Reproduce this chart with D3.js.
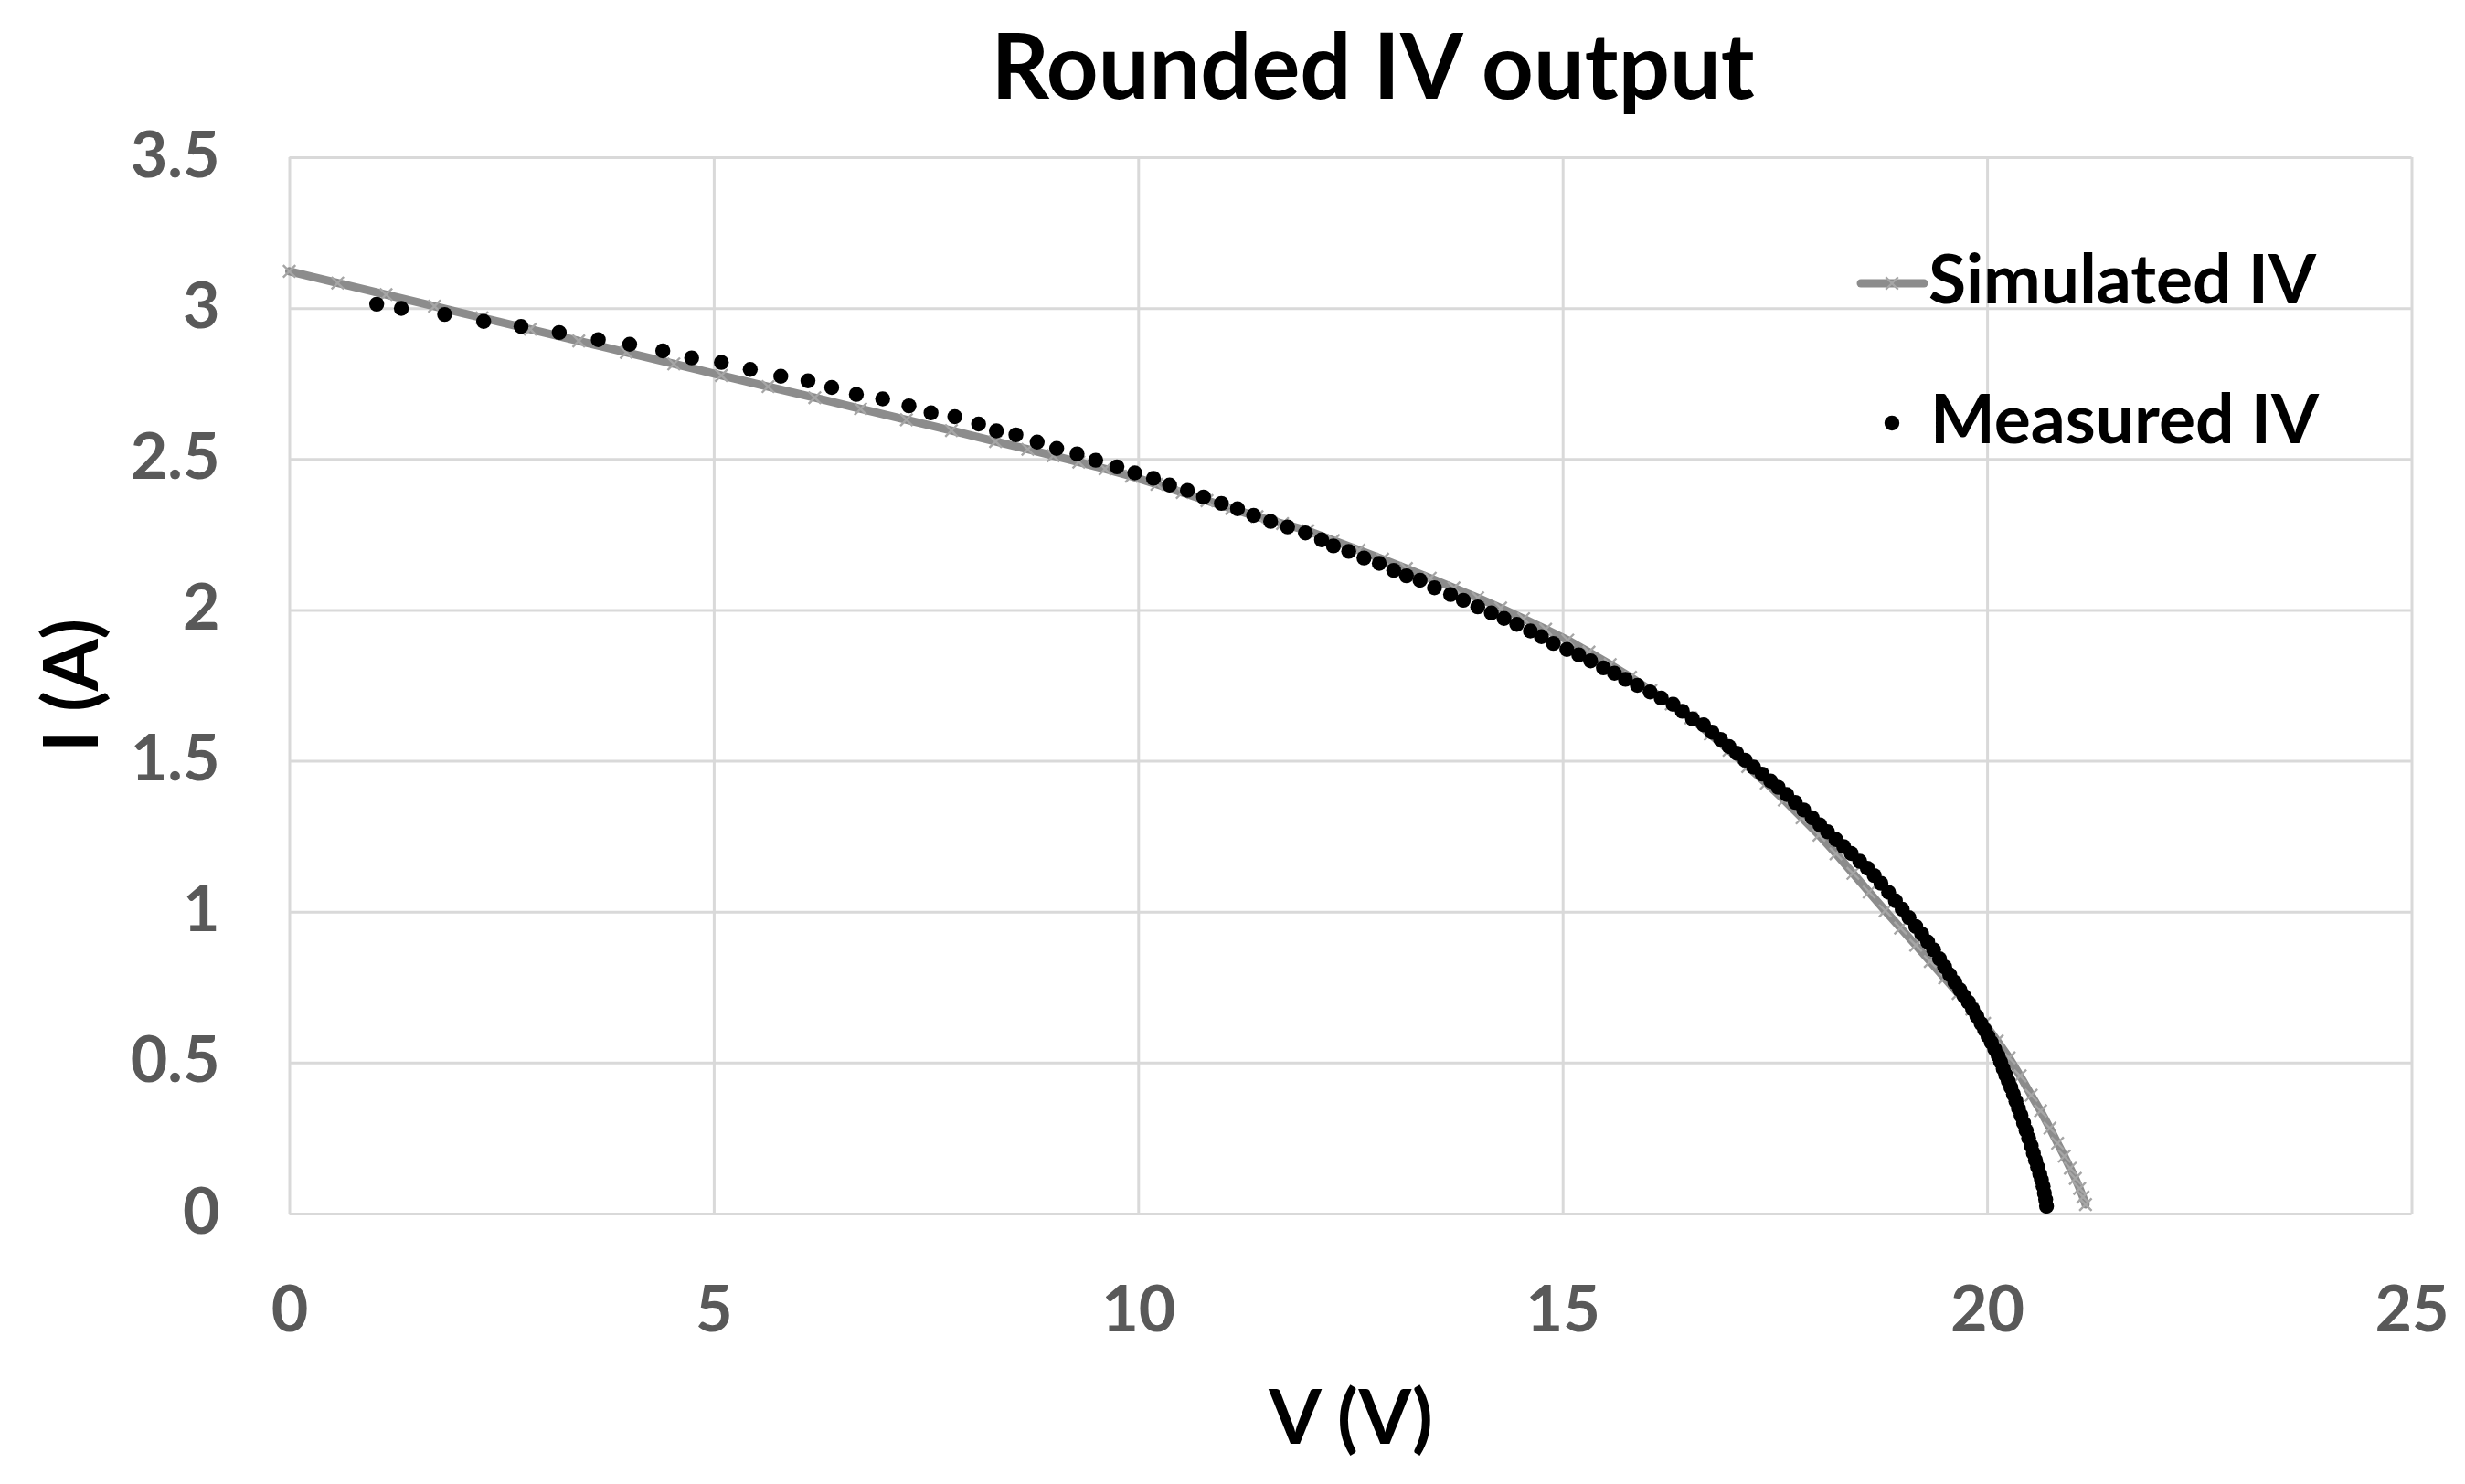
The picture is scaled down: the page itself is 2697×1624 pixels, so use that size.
<!DOCTYPE html>
<html>
<head>
<meta charset="utf-8">
<script src="https://cdn.jsdelivr.net/npm/d3@7"></script>
<style>
  html, body { margin: 0; padding: 0; background: #fff; }
  svg { display: block; }
  text { font-family: "Lato", "Open Sans", sans-serif; }
</style>
</head>
<body>
<svg id="chart" width="2697" height="1624"></svg>
<script>
// ---------------- data ----------------
const title = "Rounded IV output";
const xAxisTitle = "V (V)";
const yAxisTitle = "I (A)";
const seriesNames = ["Simulated IV", "Measured IV"];

const xTicks = [0, 5, 10, 15, 20, 25];
const xTickLabels = ["0", "5", "10", "15", "20", "25"];
const yTicks = [0, 0.5, 1, 1.5, 2, 2.5, 3, 3.5];
const yTickLabels = ["0", "0.5", "1", "1.5", "2", "2.5", "3", "3.5"];

// Simulated IV (grey line with x markers)
const simV = [0, 0.57, 1.14, 1.71, 2.27, 2.84, 3.41, 3.97, 4.53, 5.09, 5.64, 6.19, 6.73, 7.27, 7.80, 8.32, 8.70, 9.00, 9.30, 9.61, 9.92, 10.22, 10.52, 10.81, 11.10, 11.40, 11.70, 12.00, 12.30, 12.60, 12.88, 13.16, 13.44, 13.72, 14.00, 14.27, 14.54, 14.80, 15.06, 15.31, 15.56, 15.80, 16.04, 16.28, 16.51, 16.74, 16.96, 17.18, 17.40, 17.61, 17.82, 18.02, 18.22, 18.42, 18.61, 18.80, 18.98, 19.16, 19.33, 19.50, 19.66, 19.82, 19.97, 20.12, 20.26, 20.39, 20.52, 20.63, 20.74, 20.83, 20.91, 20.98, 21.04, 21.09, 21.13, 21.16];
const simI = [3.122, 3.083, 3.045, 3.006, 2.968, 2.930, 2.891, 2.853, 2.815, 2.777, 2.740, 2.703, 2.666, 2.630, 2.594, 2.558, 2.532, 2.511, 2.490, 2.467, 2.443, 2.416, 2.389, 2.362, 2.336, 2.309, 2.286, 2.262, 2.230, 2.198, 2.168, 2.137, 2.105, 2.073, 2.040, 2.006, 1.971, 1.936, 1.900, 1.860, 1.819, 1.777, 1.733, 1.688, 1.642, 1.588, 1.535, 1.481, 1.426, 1.370, 1.311, 1.254, 1.192, 1.127, 1.065, 1.003, 0.946, 0.889, 0.835, 0.780, 0.729, 0.677, 0.630, 0.572, 0.516, 0.456, 0.392, 0.340, 0.283, 0.233, 0.190, 0.150, 0.116, 0.083, 0.055, 0.030];

// Measured IV (black dots)
const measV = [1.03, 1.32, 1.83, 2.29, 2.73, 3.18, 3.64, 4.01, 4.40, 4.74, 5.09, 5.43, 5.79, 6.11, 6.39, 6.68, 6.99, 7.30, 7.56, 7.84, 8.12, 8.33, 8.56, 8.81, 9.04, 9.28, 9.50, 9.75, 9.96, 10.18, 10.37, 10.58, 10.77, 10.98, 11.17, 11.36, 11.56, 11.76, 11.97, 12.16, 12.30, 12.48, 12.66, 12.84, 13.01, 13.16, 13.32, 13.49, 13.68, 13.83, 14.00, 14.16, 14.31, 14.46, 14.62, 14.75, 14.89, 15.05, 15.19, 15.33, 15.48, 15.61, 15.74, 15.88, 16.03, 16.16, 16.30, 16.41, 16.53, 16.66, 16.76, 16.86, 16.96, 17.05, 17.15, 17.25, 17.35, 17.45, 17.54, 17.64, 17.74, 17.84, 17.94, 18.03, 18.12, 18.22, 18.31, 18.40, 18.50, 18.59, 18.67, 18.75, 18.84, 18.92, 19.00, 19.08, 19.16, 19.23, 19.30, 19.37, 19.44, 19.50, 19.56, 19.62, 19.68, 19.73, 19.78, 19.83, 19.88, 19.93, 19.97, 20.01, 20.05, 20.09, 20.13, 20.16, 20.19, 20.22, 20.25, 20.28, 20.31, 20.34, 20.37, 20.40, 20.43, 20.46, 20.49, 20.52, 20.545, 20.57, 20.595, 20.62, 20.64, 20.66, 20.675, 20.69, 20.70];
const measI = [3.013, 2.999, 2.979, 2.956, 2.939, 2.919, 2.895, 2.880, 2.858, 2.835, 2.820, 2.797, 2.774, 2.759, 2.737, 2.714, 2.699, 2.676, 2.653, 2.640, 2.616, 2.593, 2.580, 2.556, 2.535, 2.517, 2.496, 2.474, 2.454, 2.436, 2.414, 2.396, 2.374, 2.353, 2.335, 2.313, 2.293, 2.275, 2.255, 2.232, 2.212, 2.194, 2.172, 2.154, 2.131, 2.113, 2.098, 2.073, 2.051, 2.032, 2.010, 1.990, 1.972, 1.952, 1.930, 1.911, 1.889, 1.869, 1.851, 1.831, 1.808, 1.790, 1.770, 1.750, 1.728, 1.708, 1.687, 1.664, 1.639, 1.619, 1.595, 1.571, 1.547, 1.525, 1.502, 1.479, 1.456, 1.433, 1.412, 1.388, 1.362, 1.337, 1.311, 1.288, 1.265, 1.239, 1.216, 1.193, 1.167, 1.144, 1.120, 1.094, 1.064, 1.036, 1.008, 0.980, 0.951, 0.926, 0.900, 0.874, 0.844, 0.817, 0.791, 0.766, 0.741, 0.720, 0.700, 0.677, 0.653, 0.629, 0.609, 0.588, 0.567, 0.545, 0.523, 0.502, 0.480, 0.459, 0.438, 0.418, 0.395, 0.372, 0.348, 0.325, 0.300, 0.275, 0.250, 0.224, 0.200, 0.177, 0.154, 0.131, 0.112, 0.090, 0.068, 0.046, 0.024];

// ---------------- layout ----------------
const W = 2697, H = 1624;
const plot = { left: 316.5, right: 2638.5, top: 172, bottom: 1328 };
const FONT = '"Lato", "Open Sans", sans-serif';
const gridColor = "#d9d9d9";
const tickColor = "#595959";
const simColor = "#8c8c8c";
const simMarkColor = "#a6a6a6";

const svg = d3.select("#chart");
svg.append("rect").attr("width", W).attr("height", H).attr("fill", "#fff");

const x = d3.scaleLinear().domain([0, 25]).range([plot.left, plot.right]);
const y = d3.scaleLinear().domain([0, 3.5]).range([plot.bottom, plot.top]);

// y axis + horizontal gridlines
const yAxis = d3.axisLeft(y)
  .tickValues(yTicks)
  .tickFormat((d, i) => yTickLabels[i])
  .tickSize(-(plot.right - plot.left))
  .tickPadding(76);
const gy = svg.append("g").attr("transform", `translate(${plot.left},0)`).call(yAxis);
gy.select(".domain").remove();
gy.selectAll(".tick line").attr("stroke", gridColor).attr("stroke-width", 3);
gy.selectAll(".tick text")
  .attr("fill", tickColor).attr("font-size", 70).attr("font-weight", 700)
  .attr("font-family", FONT).attr("dy", "0.30em");

// x axis + vertical gridlines
const xAxis = d3.axisBottom(x)
  .tickValues(xTicks)
  .tickFormat((d, i) => xTickLabels[i])
  .tickSize(-(plot.bottom - plot.top))
  .tickPadding(79);
const gx = svg.append("g").attr("transform", `translate(0,${plot.bottom})`).call(xAxis);
gx.select(".domain").remove();
gx.selectAll(".tick line").attr("stroke", gridColor).attr("stroke-width", 3);
gx.selectAll(".tick text")
  .attr("fill", tickColor).attr("font-size", 70).attr("font-weight", 700)
  .attr("font-family", FONT);

// Title
svg.append("text").attr("x", 1502).attr("y", 108)
  .attr("text-anchor", "middle").attr("font-size", 99).attr("font-weight", 700)
  .attr("font-family", FONT).attr("fill", "#000").text(title);

// Axis titles
svg.append("text").attr("x", 1478).attr("y", 1580)
  .attr("text-anchor", "middle").attr("font-size", 83).attr("font-weight", 700)
  .attr("font-family", FONT).attr("fill", "#000").text(xAxisTitle);
svg.append("text").attr("transform", "translate(107,750) rotate(-90)")
  .attr("text-anchor", "middle").attr("font-size", 82).attr("font-weight", 700)
  .attr("font-family", FONT).attr("fill", "#000").text(yAxisTitle);

// ---------------- series ----------------
const simData = simV.map((v, i) => ({ v, i: simI[i] }));
const measData = measV.map((v, i) => ({ v, i: measI[i] }));

const line = d3.line().x(d => x(d.v)).y(d => y(d.i));
svg.append("path").datum(simData)
  .attr("d", line).attr("fill", "none")
  .attr("stroke", simColor).attr("stroke-width", 9)
  .attr("stroke-linejoin", "round").attr("stroke-linecap", "round");

const cross = d3.symbol().type(d3.symbolX).size(120);
svg.append("g").selectAll("path").data(simData).join("path")
  .attr("d", cross)
  .attr("transform", d => `translate(${x(d.v)},${y(d.i)})`)
  .attr("fill", "none").attr("stroke", simMarkColor).attr("stroke-width", 2.4);

svg.append("g").selectAll("circle").data(measData).join("circle")
  .attr("cx", d => x(d.v)).attr("cy", d => y(d.i)).attr("r", 8.2)
  .attr("fill", "#000");

// ---------------- legend ----------------
const leg = svg.append("g");
leg.append("line").attr("x1", 2036).attr("x2", 2105).attr("y1", 310).attr("y2", 310)
  .attr("stroke", simColor).attr("stroke-width", 9).attr("stroke-linecap", "round");
leg.append("path").attr("d", cross).attr("transform", "translate(2070,310)")
  .attr("fill", "none").attr("stroke", simMarkColor).attr("stroke-width", 2.4);
leg.append("text").attr("x", 2110).attr("y", 332)
  .attr("font-size", 75).attr("font-weight", 700).attr("font-family", FONT)
  .attr("fill", "#000").text(seriesNames[0]);
leg.append("circle").attr("cx", 2070).attr("cy", 463).attr("r", 8.2).attr("fill", "#000");
leg.append("text").attr("x", 2112).attr("y", 485)
  .attr("font-size", 75).attr("font-weight", 700).attr("font-family", FONT)
  .attr("fill", "#000").text(seriesNames[1]);
</script>
</body>
</html>
